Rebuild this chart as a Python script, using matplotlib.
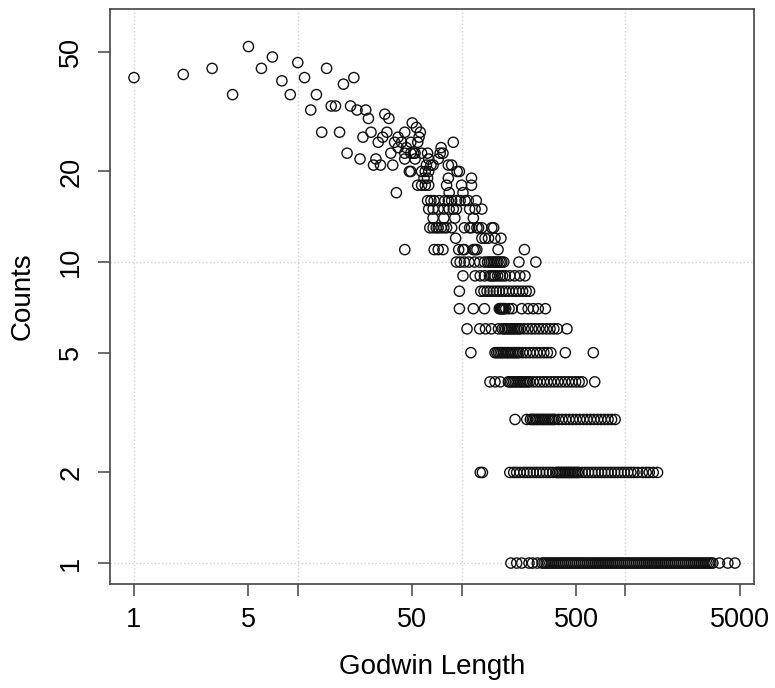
import matplotlib
matplotlib.use('Agg')
import matplotlib.pyplot as plt
from matplotlib.ticker import NullLocator
import numpy as np

plt.rcParams['font.family'] = ['Liberation Sans', 'DejaVu Sans']

# short lengths, each with its own count
head_len = [1, 2, 3, 4, 5, 6, 7, 8, 9, 10, 11, 12, 13, 14, 15, 16, 17, 18, 19, 20,
            21, 22, 23, 24, 25, 26, 27, 28, 29, 30, 31, 32, 33, 34, 35, 36, 37, 38,
            39, 40, 41, 41, 43, 45, 45, 46, 48, 49, 49, 49, 50, 52, 52, 53, 54, 54,
            56, 57, 57, 57, 59, 60, 62, 62, 63, 63, 65, 72, 74, 75, 77, 83, 83, 84,
            87, 89, 94, 97, 100, 102, 115, 115, 45, 55, 51, 61, 67, 60, 63, 81]
head_cnt = [41, 42, 44, 36, 52, 44, 48, 40, 36, 46, 41, 32, 36, 27, 44, 33, 33, 27, 39, 23,
            33, 41, 32, 22, 26, 32, 30, 27, 21, 22, 25, 21, 26, 31, 27, 30, 23, 21,
            25, 17, 26, 24, 25, 23, 22, 24, 20, 20, 25, 23, 29, 23, 22, 28, 25, 18,
            27, 23, 20, 18, 19, 18, 19, 23, 22, 18, 21, 22, 23, 24, 23, 21, 19, 17,
            21, 25, 20, 20, 18, 17, 19, 18, 27, 26, 23, 21, 21, 20, 20, 18]

# lengths sharing the same count
len_c16 = [62, 65, 68, 73, 79, 83, 87, 93, 98, 105, 110, 123]
len_c15 = [63, 67, 72, 78, 84, 89, 93, 112, 121, 133]
len_c14 = [67, 78, 91, 118]
len_c13 = [64, 67, 70, 72, 75, 78, 81, 87, 104, 112, 115, 124, 127, 133, 153, 157]
len_c12 = [92, 133, 139, 146, 160, 174]
len_c11 = [45, 68, 72, 77, 96, 102, 104, 118, 121, 124, 167, 242]
len_c10 = [93, 98, 104, 111, 120, 129, 138, 144, 148, 152, 156, 160, 164, 167, 172,
           176, 181, 224, 284]
len_c9 = [102, 121, 130, 138, 148, 152, 156, 160, 166, 172, 178, 185, 197, 211, 227, 244]
len_c8 = [97, 131, 137, 143, 149, 156, 163, 170, 178, 186, 195, 205, 215, 225, 236, 248, 260]
len_c7 = [97, 118, 138, 170, 172, 174, 176, 178, 180, 182, 186, 195, 204, 233, 255,
          274, 294, 325]
len_c6 = [108, 129, 140, 152, 168, 177, 182, 186, 191, 196, 201, 206, 211, 217, 223,
          229, 241, 254, 268, 282, 297, 313, 330, 347, 366, 385, 440]
len_c5 = [114, 160, 164, 168, 172, 176, 180, 185, 190, 194, 199, 204, 209, 214, 220,
          225, 236, 248, 261, 274, 288, 302, 318, 334, 351, 430, 637]
len_c4 = [149, 160, 172, 193, 198, 203, 208, 213, 218, 224, 229, 235, 241, 247, 253,
          260, 273, 287, 302, 317, 333, 350, 368, 387, 407, 428, 450, 473, 497, 522,
          545, 650]
len_c3 = [212, 250, 263, 270, 276, 283, 290, 297, 305, 312, 320, 328, 337, 345, 354,
          363, 372, 391, 411, 432, 454, 477, 501, 527, 554, 582, 612, 643, 676, 710,
          746, 784, 824, 866]
len_c2 = [130, 134, 197, 208, 217, 228, 240, 251, 262, 274, 287, 300, 314, 329, 344,
          360, 377, 386, 395, 404, 413, 423, 433, 443, 453, 463, 474, 485, 496, 508,
          520, 544, 569, 596, 624, 653, 684, 716, 749, 784, 821, 860, 900, 942, 986,
          1032, 1080, 1130, 1190, 1270, 1340, 1400, 1480, 1572]
len_c1 = [200, 217, 233, 258, 271, 290, 310, 319, 328, 337, 346, 356, 366, 376, 387,
          398, 409, 420, 432, 444, 457, 470, 483, 496, 510, 524, 539, 554, 570, 586,
          602, 619, 636, 654, 672, 691, 710, 730, 751, 772, 793, 815, 838, 862, 886,
          911, 936, 962, 989, 1017, 1045, 1074, 1104, 1135, 1167, 1200, 1233, 1268,
          1303, 1340, 1377, 1416, 1455, 1496, 1538, 1581, 1625, 1670, 1717, 1765,
          1814, 1865, 1917, 1971, 2026, 2083, 2141, 2201, 2262, 2325, 2390, 2457,
          2526, 2597, 2669, 2744, 2821, 2900, 2981, 3064, 3150, 3238, 3329, 3420,
          3750, 4225, 4665]

x_ticks = [1, 5, 10, 50, 100, 500, 1000, 5000]
x_labels = ['1', '5', '', '50', '', '500', '', '5000']
y_ticks = [1, 2, 5, 10, 20, 50]
y_labels = ['1', '2', '5', '10', '20', '50']

levels = [(16, len_c16), (15, len_c15), (14, len_c14), (13, len_c13), (12, len_c12),
          (11, len_c11), (10, len_c10), (9, len_c9), (8, len_c8), (7, len_c7),
          (6, len_c6), (5, len_c5), (4, len_c4), (3, len_c3), (2, len_c2), (1, len_c1)]

lengths = list(head_len)
counts = list(head_cnt)
for c, xs in levels:
    lengths += xs
    counts += [c] * len(xs)

fig = plt.figure(figsize=(7.75, 6.88), dpi=100)
ax = fig.add_axes([110 / 775, 1 - 584 / 688, 644 / 775, 575 / 688])
ax.set_xscale('log')
ax.set_yscale('log')

# dotted grid only at the decades
for gx in [1, 10, 100, 1000]:
    ax.axvline(gx, color='#d3d3d3', linestyle=':', linewidth=1, zorder=0)
for gy in [1, 10]:
    ax.axhline(gy, color='#d3d3d3', linestyle=':', linewidth=1, zorder=0)

ax.scatter(lengths, counts, s=54, facecolors='none', edgecolors='#111111',
           linewidths=1.0, zorder=2)

ax.set_xlim(0.714, 6100)
ax.set_ylim(0.852, 69.3)
ax.set_xticks(x_ticks)
ax.set_xticklabels(x_labels)
ax.set_yticks(y_ticks)
ax.set_yticklabels(y_labels, rotation=90, va='center')
ax.xaxis.set_minor_locator(NullLocator())
ax.yaxis.set_minor_locator(NullLocator())
ax.tick_params(axis='both', length=8.5, width=1.1, color='#444', labelsize=19.5)
ax.tick_params(axis='x', pad=8)
ax.tick_params(axis='y', pad=10)

for sp in ax.spines.values():
    sp.set_color('#444')
    sp.set_linewidth(1.2)

ax.set_xlabel('Godwin Length', fontsize=20, va='center')
ax.set_ylabel('Counts', fontsize=20, va='center')
ax.xaxis.set_label_coords(0.5, -0.144)
ax.yaxis.set_label_coords(-0.135, 0.5)

fig.savefig('out.png', dpi=100)
